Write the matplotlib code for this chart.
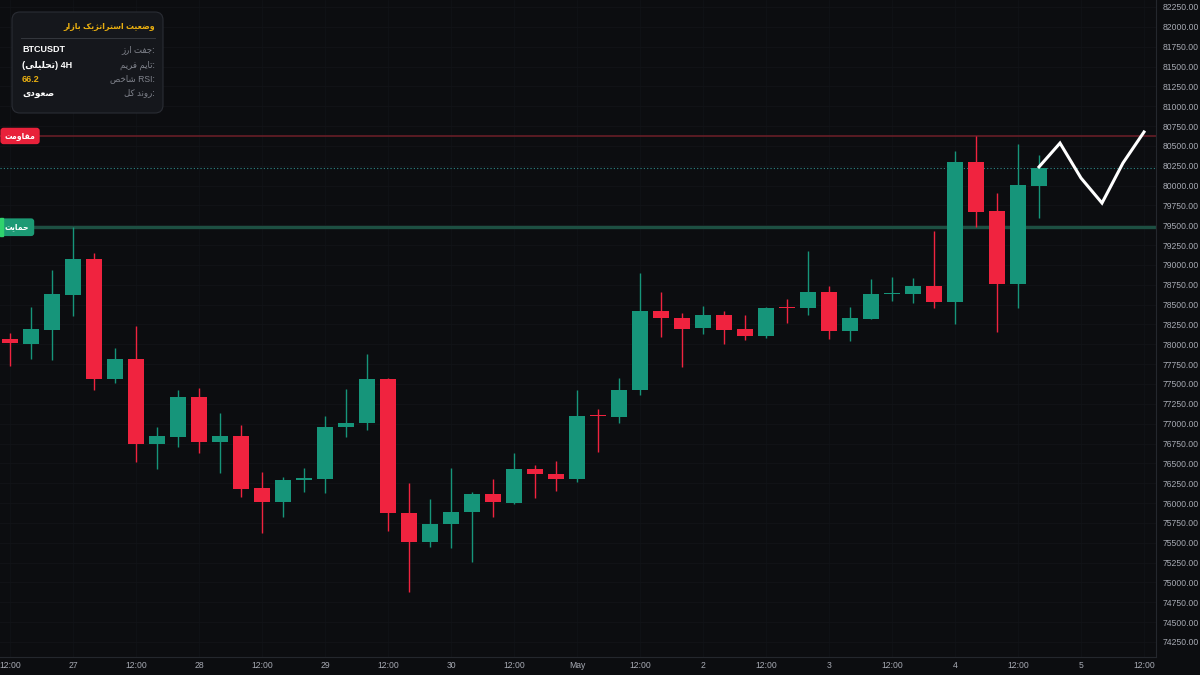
import matplotlib
matplotlib.use('Agg')
import matplotlib.pyplot as plt
import matplotlib.transforms as mtransforms
from matplotlib.patches import FancyBboxPatch, Rectangle

plt.rcParams['font.family'] = ['Liberation Sans', 'DejaVu Sans']

#%% data (4H candles, 26 Apr 12:00 -> 4 May 16:00)
opens = [78065, 78005, 78180, 78620, 79075, 77565, 77815, 76745, 76830, 77335,
         76770, 76845, 76190, 76015, 76290, 76305, 76960, 77010, 77565, 75875,
         75510, 75735, 75885, 76115, 76000, 76430, 76365, 76305, 77110, 77085,
         77425, 78420, 78330, 78205, 78370, 78195, 78105, 78470, 78455, 78660,
         78170, 78320, 78635, 78635, 78735, 78535, 80295, 79680, 78760, 79995]
highs = [78140, 78470, 78935, 79480, 79150, 77955, 78230, 76960, 77425, 77450,
         77135, 76985, 76390, 76330, 76440, 77095, 77435, 77880, 77570, 76250,
         76050, 76440, 76140, 76305, 76630, 76480, 76530, 77425, 77185, 77575,
         78900, 78660, 78395, 78485, 78420, 78370, 78470, 78570, 79175, 78735,
         78470, 78825, 78850, 78835, 79430, 80435, 80625, 79905, 80525, 80385]
lows = [77725, 77815, 77800, 78355, 77425, 77510, 76515, 76430, 76705, 76630,
        76380, 76075, 75620, 75825, 76140, 76125, 76830, 76920, 75650, 74880,
        75445, 75435, 75255, 75825, 75985, 76065, 76150, 76265, 76645, 77010,
        77360, 78090, 77715, 78130, 78005, 78055, 78080, 78270, 78370, 78065,
        78040, 78320, 78545, 78520, 78455, 78255, 79480, 78155, 78455, 79590]
closes = [78015, 78195, 78635, 79075, 77565, 77815, 76745, 76845, 77335, 76770,
          76845, 76175, 76015, 76290, 76315, 76960, 77010, 77565, 75875, 75510,
          75735, 75885, 76115, 76015, 76430, 76365, 76305, 77095, 77095, 77425,
          78420, 78330, 78195, 78370, 78180, 78105, 78455, 78455, 78660, 78170,
          78330, 78635, 78650, 78735, 78535, 80295, 79665, 78760, 80005, 80225]

# projected path drawn from the last candle
proj_idx = [49, 50, 51, 52, 53, 54]
proj_price = [80235, 80535, 80095, 79780, 80285, 80675]

resistance = 80625
support = 79475
last_price = 80225

tick_pos = list(range(0, 55, 3))
tick_labels = ['12:00', '27', '12:00', '28', '12:00', '29', '12:00', '30', '12:00', 'May',
               '12:00', '2', '12:00', '3', '12:00', '4', '12:00', '5', '12:00']
price_ticks = list(range(74250, 82251, 250))

#%% simple persian shaping (matplotlib has no text shaping)
FORMS = {
    'ا': ('\uFE8D', '\uFE8E', None, None),
    'ب': ('\uFE8F', '\uFE90', '\uFE91', '\uFE92'),
    'ت': ('\uFE95', '\uFE96', '\uFE97', '\uFE98'),
    'ج': ('\uFE9D', '\uFE9E', '\uFE9F', '\uFEA0'),
    'ح': ('\uFEA1', '\uFEA2', '\uFEA3', '\uFEA4'),
    'خ': ('\uFEA5', '\uFEA6', '\uFEA7', '\uFEA8'),
    'د': ('\uFEA9', '\uFEAA', None, None),
    'ر': ('\uFEAD', '\uFEAE', None, None),
    'ز': ('\uFEAF', '\uFEB0', None, None),
    'ژ': ('\uFB8A', '\uFB8B', None, None),
    'س': ('\uFEB1', '\uFEB2', '\uFEB3', '\uFEB4'),
    'ش': ('\uFEB5', '\uFEB6', '\uFEB7', '\uFEB8'),
    'ص': ('\uFEB9', '\uFEBA', '\uFEBB', '\uFEBC'),
    'ض': ('\uFEBD', '\uFEBE', '\uFEBF', '\uFEC0'),
    'ع': ('\uFEC9', '\uFECA', '\uFECB', '\uFECC'),
    'ف': ('\uFED1', '\uFED2', '\uFED3', '\uFED4'),
    'ق': ('\uFED5', '\uFED6', '\uFED7', '\uFED8'),
    'ک': ('\uFB8E', '\uFB8F', '\uFB90', '\uFB91'),
    'ل': ('\uFEDD', '\uFEDE', '\uFEDF', '\uFEE0'),
    'م': ('\uFEE1', '\uFEE2', '\uFEE3', '\uFEE4'),
    'ن': ('\uFEE5', '\uFEE6', '\uFEE7', '\uFEE8'),
    'و': ('\uFEED', '\uFEEE', None, None),
    'ی': ('\uFBFC', '\uFBFD', '\uFBFE', '\uFBFF'),
}


def fa(s):
    out = []
    for i, c in enumerate(s):
        if c not in FORMS:
            out.append(c)
            continue
        f = FORMS[c]
        prev = s[i - 1] if i > 0 else ''
        nxt = s[i + 1] if i < len(s) - 1 else ''
        jp = prev in FORMS and FORMS[prev][2] is not None
        jn = f[2] is not None and nxt in FORMS
        if jp and jn:
            out.append(f[3])
        elif jp:
            out.append(f[1])
        elif jn:
            out.append(f[2])
        else:
            out.append(f[0])
    return ''.join(reversed(out))


#%% colors
BG = '#0c0d10'
GREEN = '#16957a'
RED = '#f0233f'
GRID = '#121418'
TXT = '#a7aab3'

fig = plt.figure(figsize=(12, 6.75), dpi=100, facecolor=BG)
ax = fig.add_axes([0, 18 / 675, 1156 / 1200, 657 / 675])
ax.set_facecolor(BG)

# candles
for i in range(len(opens)):
    o, h, l, c = opens[i], highs[i], lows[i], closes[i]
    col = GREEN if c >= o else RED
    ax.vlines(i, l, h, color=col, lw=1, zorder=3)
    ax.bar(i, max(abs(c - o), 12), bottom=min(o, c), width=0.78, color=col,
           edgecolor='none', zorder=4)

# levels
ax.axhline(resistance, color='#6e1f28', lw=1.1, zorder=2)
ax.axhline(support, color='#1d4f42', lw=2.4, zorder=2)
ax.axhline(last_price, color='#2f8a8a', lw=0.8, ls=(0, (1, 2)), zorder=2)

# projection
ax.plot(proj_idx, proj_price, color='white', lw=2.2, zorder=5, solid_joinstyle='miter')

ax.set_xlim(-10 / 21, 1146 / 21)
ax.set_ylim(74060, 82338)
ax.set_xticks(tick_pos)
ax.set_xticklabels(tick_labels)
ax.set_yticks(price_ticks)
ax.set_yticklabels(['%.2f' % p for p in price_ticks])
ax.yaxis.tick_right()
ax.tick_params(axis='both', length=0, colors=TXT, labelsize=6.2)
ax.tick_params(axis='y', pad=4.5)
ax.tick_params(axis='x', pad=3)
ax.grid(True, axis='y', color=GRID, lw=0.6)
ax.grid(True, axis='x', color='#101216', lw=0.6)
ax.set_axisbelow(True)
for s in ['top', 'left']:
    ax.spines[s].set_visible(False)
for s in ['bottom', 'right']:
    ax.spines[s].set_color('#24272d')
    ax.spines[s].set_linewidth(0.8)

# level tags on the left edge
trans = mtransforms.blended_transform_factory(ax.transAxes, ax.transData)
ax.text(0.004, resistance, fa('مقاومت'), transform=trans, ha='left', va='center',
        fontsize=5.5, color='white', fontweight='bold', zorder=6,
        bbox=dict(boxstyle='round,pad=0.55,rounding_size=0.4', fc='#e8213a', ec='none'))
ax.text(0.004, support, fa('حمایت'), transform=trans, ha='left', va='center',
        fontsize=5.5, color='white', fontweight='bold', zorder=6,
        bbox=dict(boxstyle='round,pad=0.65,rounding_size=0.4', fc='#1c9a74', ec='none'))
ax.add_patch(Rectangle((0, support - 110), 0.003, 220, transform=trans,
                       color='#2fd36d', zorder=7, clip_on=False))

#%% info box (overlay in pixel units)
ov = fig.add_axes([0, 0, 1, 1], facecolor='none')
ov.set_xlim(0, 1200)
ov.set_ylim(675, 0)
ov.axis('off')
ov.add_patch(FancyBboxPatch((12, 12), 151, 101, boxstyle='round,pad=0,rounding_size=8',
                            fc='#15171c', ec='#2a2d34', lw=0.8))
ov.text(155, 27, fa('وضعیت استراتژیک بازار'), ha='right', va='center',
        fontsize=5.8, fontweight='bold', color='#e8ae10')
ov.plot([21, 155], [38, 38], color='#34373e', lw=0.7)

row_y = [50, 65, 79, 93]
row_labels = [fa('جفت ارز') + ':', fa('تایم فریم') + ':', fa('شاخص') + ' RSI:', fa('روند کل') + ':']
row_values = ['BTCUSDT', '(' + fa('تحلیلی') + ') 4H', '66.2', fa('صعودی')]
row_colors = ['white', 'white', '#e8ae10', 'white']
for y, lab, val, col in zip(row_y, row_labels, row_values, row_colors):
    ov.text(155, y, lab, ha='right', va='center', fontsize=6.2, color='#80838c')
    ov.text(22, y, val, ha='left', va='center', fontsize=6.5, fontweight='bold', color=col)

fig.savefig('out.png', dpi=100, facecolor=BG)
